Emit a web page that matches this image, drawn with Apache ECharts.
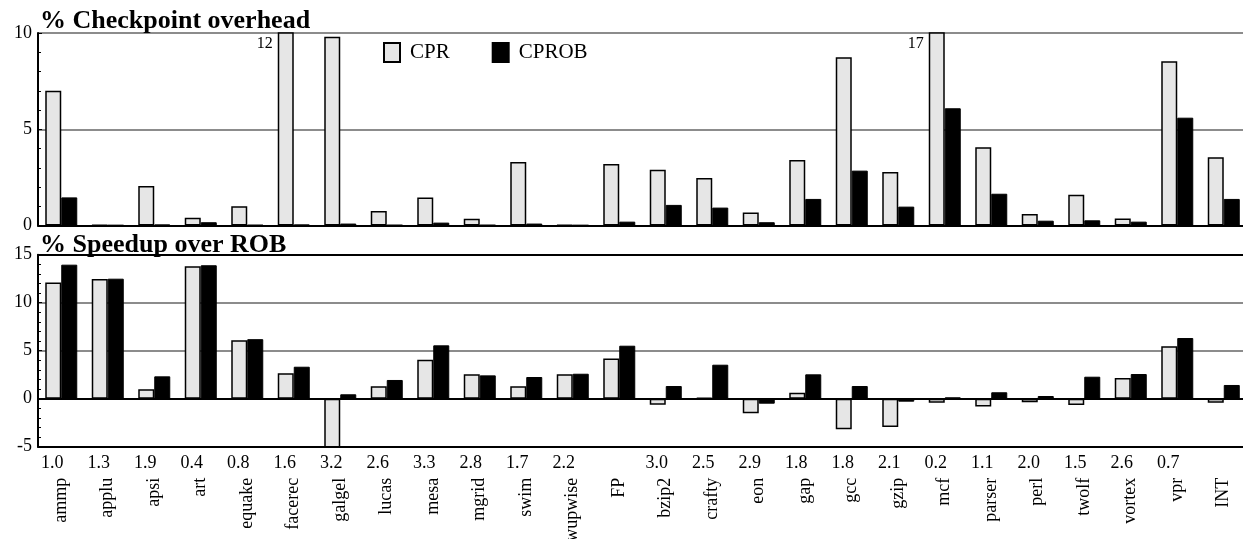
<!DOCTYPE html>
<html>
<head>
<meta charset="utf-8">
<script src="https://cdn.jsdelivr.net/npm/echarts@6/dist/echarts.min.js"></script>
<style>html,body{margin:0;padding:0;background:#fff}#c{width:1243px;height:539px}</style>
</head>
<body>
<div id="c"></div>
<script>
var categories = ['ammp','applu','apsi','art','equake','facerec','galgel','lucas','mesa','mgrid','swim','wupwise','FP','bzip2','crafty','eon','gap','gcc','gzip','mcf','parser','perl','twolf','vortex','vpr','INT'];
var tickNums = ['1.0','1.3','1.9','0.4','0.8','1.6','3.2','2.6','3.3','2.8','1.7','2.2','','3.0','2.5','2.9','1.8','1.8','2.1','0.2','1.1','2.0','1.5','2.6','0.7',''];
var overheadCPR = [7.0,0.02,2.05,0.4,1.0,12,9.8,0.75,1.45,0.35,3.3,0.02,3.2,2.9,2.47,0.67,3.4,8.74,2.78,17,4.06,0.6,1.6,0.37,8.53,3.54];
var overheadCPROB = [1.46,0.02,0.05,0.17,0.03,0.05,0.1,0.03,0.15,0.03,0.1,0.02,0.2,1.07,0.93,0.17,1.38,2.85,0.98,6.09,1.65,0.25,0.27,0.2,5.6,1.38];
var speedupCPR = [12.1,12.47,0.98,13.8,6.08,2.64,-5.5,1.29,4.06,2.54,1.29,2.54,4.2,-0.62,0.1,-1.52,0.63,-3.19,-2.95,-0.42,-0.8,-0.38,-0.66,2.16,5.46,-0.42];
var speedupCPROB = [13.96,12.5,2.33,13.9,6.2,3.33,0.46,1.95,5.56,2.43,2.26,2.6,5.52,1.32,3.54,-0.52,2.54,1.32,-0.31,0.14,0.67,0.28,2.29,2.57,6.32,1.43];
var topMax = 10;
var splitIndex = categories.indexOf('bzip2');

var FONT = 'Liberation Serif';
var chart = echarts.init(document.getElementById('c'), null, {renderer: 'canvas'});

var overflowMarks = [];
overheadCPR.forEach(function (v, i) {
  if (v > topMax) overflowMarks.push({coord: [categories[i], topMax], value: v});
});

var cprStyle = {color: '#e6e6e6', borderColor: '#000', borderWidth: 1.5};
var cprobStyle = {color: '#000', borderColor: '#000', borderWidth: 1};

function sepSplit() {
  return {show: true, interval: function (i) { return i === splitIndex; }, lineStyle: {color: '#8c8c8c', width: 2}};
}

var option = {
  animation: false,
  backgroundColor: '#fff',
  title: [
    {text: '% Checkpoint overhead', left: 35, top: 3, padding: 5, textStyle: {fontFamily: FONT, fontSize: 26, fontWeight: 'bold', color: '#000'}},
    {text: '% Speedup over ROB', left: 35, top: 227, padding: 5, textStyle: {fontFamily: FONT, fontSize: 26, fontWeight: 'bold', color: '#000'}}
  ],
  legend: {
    left: 378, top: 37, itemWidth: 16, itemHeight: 19, itemGap: 42,
    icon: 'rect',
    textStyle: {fontFamily: FONT, fontSize: 21, color: '#000', padding: [0, 0, 0, 5]},
    data: ['CPR', 'CPROB']
  },
  grid: [
    {left: 38, top: 33, width: 1209, height: 192.5, outerBoundsMode: 'none', containLabel: false},
    {left: 38, top: 254.7, width: 1209, height: 192, outerBoundsMode: 'none', containLabel: false}
  ],
  xAxis: [
    {type: 'category', gridIndex: 0, data: categories, position: 'bottom',
      axisLine: {show: true, lineStyle: {color: '#000', width: 2}}, axisTick: {show: false}, axisLabel: {show: false},
      splitLine: sepSplit()},
    {type: 'category', gridIndex: 1, data: categories, position: 'bottom',
      axisLine: {show: true, onZero: false, lineStyle: {color: '#000', width: 2}}, axisTick: {show: false},
      axisLabel: {show: true, interval: 0, margin: 8, fontFamily: FONT, fontSize: 18, color: '#000', padding: [0, 18, 0, 0],
        formatter: function (v, i) { return tickNums[i]; }},
      splitLine: sepSplit()},
    {type: 'category', gridIndex: 1, data: categories, position: 'bottom', offset: 0,
      axisLine: {show: false}, axisTick: {show: false},
      axisLabel: {show: true, interval: 0, rotate: 90, margin: 31, fontFamily: FONT, fontSize: 18, color: '#000', padding: [0, 0, 8, 0]}},
    {type: 'category', gridIndex: 1, data: categories, position: 'top',
      axisLine: {show: true, onZero: false, lineStyle: {color: '#000', width: 2}}, axisTick: {show: false}, axisLabel: {show: false}}
  ],
  yAxis: [
    {type: 'value', gridIndex: 0, min: 0, max: topMax, interval: 5,
      axisLine: {show: true, lineStyle: {color: '#000', width: 2}},
      axisTick: {show: true, inside: true, length: 4, lineStyle: {color: '#000'}},
      minorTick: {show: true, splitNumber: 5, length: 3, lineStyle: {color: '#000'}},
      axisLabel: {fontFamily: FONT, fontSize: 18, color: '#000', margin: 6},
      splitLine: {show: true, lineStyle: {color: '#8c8c8c', width: 2}}},
    {type: 'value', gridIndex: 1, min: -5, max: 15, interval: 5,
      axisLine: {show: true, lineStyle: {color: '#000', width: 2}},
      axisTick: {show: true, inside: true, length: 4, lineStyle: {color: '#000'}},
      minorTick: {show: true, splitNumber: 5, length: 3, lineStyle: {color: '#000'}},
      axisLabel: {fontFamily: FONT, fontSize: 18, color: '#000', margin: 6},
      splitLine: {show: true, lineStyle: {color: '#8c8c8c', width: 2}}}
  ],
  series: [
    {name: 'CPR', type: 'bar', xAxisIndex: 0, yAxisIndex: 0, data: overheadCPR, barWidth: 16, barGap: '0%', itemStyle: cprStyle,
      markPoint: {symbol: 'circle', symbolSize: 0, silent: true, data: overflowMarks,
        label: {show: true, formatter: '{c}', position: 'inside', offset: [-21, 11], fontFamily: FONT, fontSize: 16, color: '#000'}}},
    {name: 'CPROB', type: 'bar', xAxisIndex: 0, yAxisIndex: 0, data: overheadCPROB, barWidth: 16, barGap: '0%', itemStyle: cprobStyle},
    {name: 'CPR', type: 'bar', xAxisIndex: 1, yAxisIndex: 1, data: speedupCPR, barWidth: 16, barGap: '0%', itemStyle: cprStyle},
    {name: 'CPROB', type: 'bar', xAxisIndex: 1, yAxisIndex: 1, data: speedupCPROB, barWidth: 16, barGap: '0%', itemStyle: cprobStyle,
      markLine: {silent: true, symbol: 'none', label: {show: false}, lineStyle: {color: '#000', width: 2, type: 'solid'}, data: [{yAxis: 0}]}}
  ]
};
chart.setOption(option);
</script>
</body>
</html>
